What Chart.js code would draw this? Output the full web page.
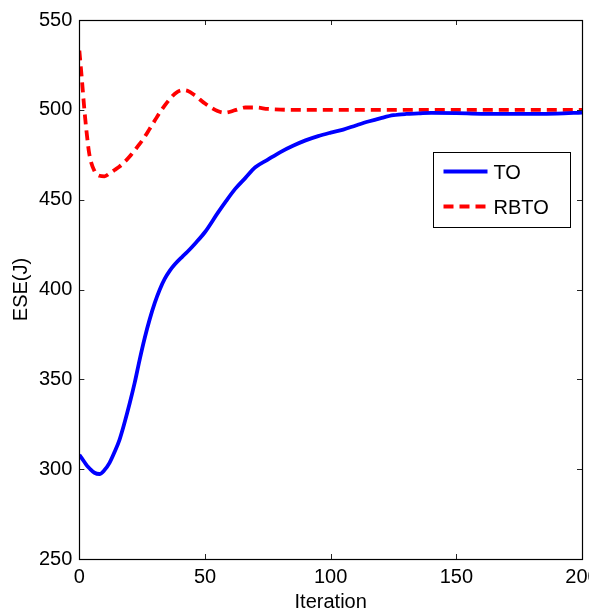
<!DOCTYPE html>
<html>
<head>
<meta charset="utf-8">
<script src="https://cdn.jsdelivr.net/npm/chart.js@4/dist/chart.umd.min.js"></script>
<style>
  html, body { margin: 0; padding: 0; background: #fff; overflow: hidden; }
  #wrap { position: relative; width: 620px; height: 620px; }
</style>
</head>
<body>
<div id="wrap"><canvas id="c" width="620" height="620"></canvas></div>
<script>
// Iteration index shared by both series
const iterations = [0, 1, 2, 3, 4, 6, 8, 10, 12, 14, 16, 18, 20, 22, 24, 26, 28, 30, 32, 34, 36, 38,
  41, 43, 46, 50, 55, 58, 62, 66, 70, 75, 80, 85, 90, 95, 100, 105, 110, 115, 120, 125, 130, 135,
  140, 150, 160, 170, 180, 190, 200];

// ESE (J) for TO
const toValues = [308, 306, 304, 302, 300.5, 298, 297.3, 299.5, 303.5, 309.5, 316.5, 326, 336.5, 348,
  361, 373, 383.5, 392.5, 400, 406, 410.5, 414, 418.3, 421, 425.5, 432, 442.5, 448.5, 456, 462, 468,
  472.3, 476.5, 480, 483, 485.4, 487.3, 489, 491.3, 493.5, 495.4, 497, 497.7, 498, 498.3, 498.2,
  497.8, 497.8, 497.8, 497.9, 498.5];

// ESE (J) for RBTO
const rbtoValues = [533, 517, 500, 486, 475, 466, 463.3, 463, 464.5, 466.5, 468.5, 471, 474, 477.5,
  481, 485, 489.5, 494, 498.5, 502.5, 506, 509, 511, 510.6, 508, 503.5, 499.3, 498.4, 499.8, 501.3,
  501.3, 500.5, 500.1, 500, 500, 500, 500, 500, 500, 500, 500, 500, 500, 500, 500, 500, 500, 500,
  500, 500, 500];

const seriesLabels = ['TO', 'RBTO'];
const xTickValues = [0, 50, 100, 150, 200];
const yTickValues = [250, 300, 350, 400, 450, 500, 550];

const FONT = "'Liberation Sans', Arial, Helvetica, sans-serif";

const toPoints = iterations.map((it, i) => ({ x: it, y: toValues[i] }));
const rbtoPoints = iterations.map((it, i) => ({ x: it, y: rbtoValues[i] }));

// Box around the axes with inward ticks on all four sides, plus the boxed legend
const framePlugin = {
  id: 'frame',
  afterDraw(chart) {
    const { ctx, chartArea: a, scales } = chart;
    const xs = scales.x, ys = scales.y;
    const tick = 5;
    ctx.save();
    ctx.strokeStyle = '#262626';
    ctx.lineWidth = 1;
    ctx.beginPath();
    xTickValues.forEach(v => {
      const px = Math.round(xs.getPixelForValue(v)) + 0.5;
      ctx.moveTo(px, a.bottom); ctx.lineTo(px, a.bottom - tick);
      ctx.moveTo(px, a.top); ctx.lineTo(px, a.top + tick);
    });
    yTickValues.forEach(v => {
      const py = Math.round(ys.getPixelForValue(v)) + 0.5;
      ctx.moveTo(a.left, py); ctx.lineTo(a.left + tick, py);
      ctx.moveTo(a.right, py); ctx.lineTo(a.right - tick, py);
    });
    ctx.stroke();

    ctx.strokeStyle = '#000';
    ctx.lineWidth = 1.2;
    ctx.strokeRect(Math.round(a.left) + 0.5, Math.round(a.top) + 0.5,
      Math.round(a.right - a.left), Math.round(a.bottom - a.top));

    // legend
    const w = 137, h = 75;
    const x0 = Math.round(a.right - 12 - w) + 0.5;
    const y0 = Math.round(a.top + 132) + 0.5;
    ctx.fillStyle = '#fff';
    ctx.fillRect(x0, y0, w, h);
    ctx.strokeStyle = '#000';
    ctx.lineWidth = 1;
    ctx.strokeRect(x0, y0, w, h);
    ctx.font = '20px ' + FONT;
    ctx.textBaseline = 'middle';
    ctx.textAlign = 'left';
    chart.data.datasets.forEach((ds, i) => {
      const ly = y0 + 19 + i * 35;
      ctx.save();
      ctx.strokeStyle = ds.borderColor;
      ctx.lineWidth = ds.borderWidth;
      ctx.setLineDash(ds.borderDash || []);
      ctx.beginPath();
      ctx.moveTo(x0 + 10, ly);
      ctx.lineTo(x0 + 54, ly);
      ctx.stroke();
      ctx.restore();
      ctx.fillStyle = '#000';
      ctx.fillText(ds.label, x0 + 60, ly + 2);
    });
    ctx.restore();
  }
};

new Chart(document.getElementById('c'), {
  type: 'line',
  data: {
    datasets: [
      {
        label: seriesLabels[0],
        data: toPoints,
        borderColor: '#0000ff',
        borderWidth: 3.8,
        pointRadius: 0,
        cubicInterpolationMode: 'monotone',
        fill: false
      },
      {
        label: seriesLabels[1],
        data: rbtoPoints,
        borderColor: '#ff0000',
        borderWidth: 3.8,
        borderDash: [10, 6],
        pointRadius: 0,
        cubicInterpolationMode: 'monotone',
        fill: false
      }
    ]
  },
  options: {
    responsive: false,
    animation: false,
    layout: { padding: { left: 0, right: 38, top: 20, bottom: 5 } },
    plugins: { legend: { display: false }, tooltip: { enabled: false } },
    scales: {
      x: {
        type: 'linear',
        min: 0, max: 200,
        afterBuildTicks: s => { s.ticks = xTickValues.map(v => ({ value: v })); },
        ticks: { color: '#000', font: { family: FONT, size: 20 }, padding: 6, maxRotation: 0 },
        grid: { display: false, drawTicks: false },
        border: { display: false },
        title: { display: true, text: 'Iteration', color: '#000', font: { family: FONT, size: 20 }, padding: { top: -5, bottom: 1 } }
      },
      y: {
        type: 'linear',
        min: 250, max: 550,
        afterBuildTicks: s => { s.ticks = yTickValues.map(v => ({ value: v })); },
        ticks: { color: '#000', font: { family: FONT, size: 20 }, padding: 7 },
        grid: { display: false, drawTicks: false },
        border: { display: false },
        title: { display: true, text: 'ESE(J)', color: '#000', font: { family: FONT, size: 20 }, padding: { top: 9, bottom: -1 } }
      }
    }
  },
  plugins: [framePlugin]
});
</script>
</body>
</html>
